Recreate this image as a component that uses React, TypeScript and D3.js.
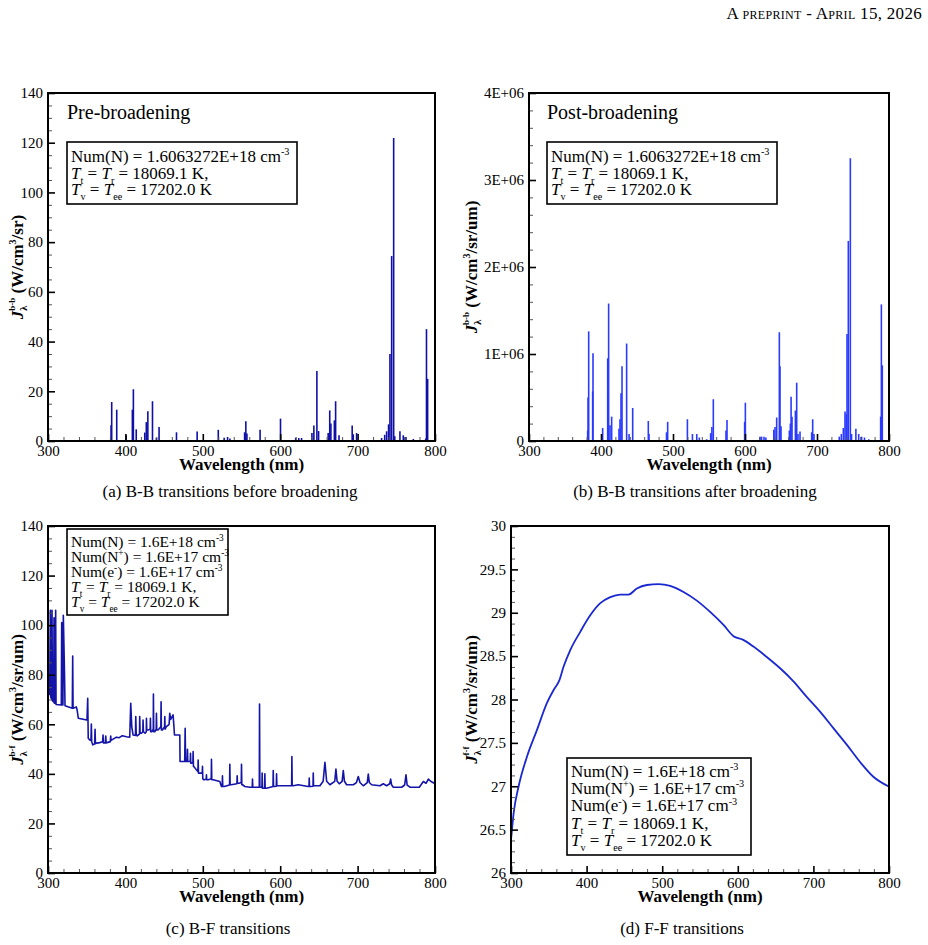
import React, { useRef, useEffect } from "react";
import * as d3 from "d3";

const FONT = "'Liberation Serif', Tinos, 'Times New Roman', Times, 'DejaVu Serif', 'Noto Serif', serif";

// wavelength grid shared by all four spectra
const xMajor = [300, 400, 500, 600, 700, 800];

// (a) bound-bound lines before broadening, W/cm3/sr
const preNm = [381.5, 382.3, 388.8, 401, 409, 410.3, 414, 425, 427, 429, 435, 440, 443.5, 466, 492.7, 520, 527.6, 532, 535, 554, 555.6, 557, 574, 600.4, 620, 624, 627.6, 641, 643.5, 647.4, 649.6, 662, 664, 665.5, 670, 671.6, 676, 693, 694.4, 698.7, 731, 735, 737.5, 740, 741.8, 744, 746.6, 748, 754.7, 759, 762.5, 772, 788, 789, 790.5];
const preVal = [6.3, 15.7, 12.6, 2.3, 12.6, 20.8, 4.7, 3.4, 7.6, 12, 16, 1.3, 5.6, 3.5, 3.8, 4.5, 1.3, 1.6, 1, 3.5, 7.9, 3, 4.5, 9, 1.3, 1.2, 1.2, 3.2, 6.2, 28.2, 4, 3.2, 12.3, 7, 8.3, 16, 2.3, 6.2, 2.7, 3.2, 1.2, 2.5, 3.9, 6.7, 35, 74.4, 121.9, 1.9, 3.9, 2.3, 1.6, 0.8, 1, 45, 25];

// (b) bound-bound lines after broadening, W/cm3/sr/um
const postNm = [381.5, 382, 382.9, 388.4, 388.9, 402.3, 409.3, 410.6, 412.5, 414.8, 425, 426.4, 427.8, 429.2, 435.6, 439, 444, 465.7, 466.7, 491, 492.6, 520, 527, 533, 536.6, 546.8, 552.3, 554, 556, 573.6, 575, 599.5, 600.5, 620.8, 623, 626.4, 629, 640, 641.7, 644, 647.7, 648.6, 650, 661.6, 663, 664, 665.3, 670, 671.8, 673.6, 676.4, 692.6, 694, 695.8, 731, 733.8, 736.6, 738.9, 740.7, 741.7, 743.5, 746.3, 748, 754, 757.9, 762, 766, 772, 788.4, 789.4, 790.7];
const postVal = [0.12e6, 0.5e6, 1.26e6, 0.57e6, 1.01e6, 0.15e6, 0.95e6, 1.58e6, 0.18e6, 0.28e6, 0.14e6, 0.25e6, 0.55e6, 0.86e6, 1.12e6, 0.08e6, 0.38e6, 0.23e6, 0.08e6, 0.1e6, 0.22e6, 0.25e6, 0.08e6, 0.08e6, 0.04e6, 0.02e6, 0.09e6, 0.16e6, 0.48e6, 0.12e6, 0.24e6, 0.22e6, 0.44e6, 0.05e6, 0.05e6, 0.05e6, 0.04e6, 0.13e6, 0.16e6, 0.27e6, 1.25e6, 0.86e6, 0.17e6, 0.12e6, 0.2e6, 0.51e6, 0.28e6, 0.35e6, 0.67e6, 0.08e6, 0.11e6, 0.1e6, 0.25e6, 0.08e6, 0.05e6, 0.08e6, 0.15e6, 0.34e6, 0.31e6, 1.23e6, 2.3e6, 3.25e6, 0.08e6, 0.14e6, 0.08e6, 0.05e6, 0.04e6, 0.02e6, 0.28e6, 1.57e6, 0.87e6];

// (c) bound-free emission: continuum with narrow line spikes
const bfNm = [300.2, 300.6, 301.5, 302.5, 303.0, 303.5, 304.8, 305.2, 305.7, 307.3, 307.8, 308.3, 309.4, 309.9, 310.4, 317.2, 317.7, 318.2, 319.3, 319.8, 320.6, 321.3, 322.0, 331.4, 331.9, 332.4, 336.6, 337.5, 339.2, 349.9, 350.4, 351.3, 352.0, 353.9, 355.5, 356.0, 356.5, 357.8, 360.3, 360.8, 361.3, 366.8, 370.6, 371.1, 371.6, 374.1, 374.6, 375.1, 380.5, 381.0, 381.5, 388.4, 392.0, 396.0, 401.3, 405.6, 406.9, 408.2, 409.9, 413.0, 413.4, 414.0, 415.1, 418.2, 418.5, 419.0, 420.7, 422.5, 422.8, 423.3, 425.4, 427.0, 427.2, 427.6, 429.3, 432.0, 432.3, 432.7, 434.1, 436.0, 436.2, 436.6, 437.9, 439.8, 440.1, 440.5, 442.2, 445.8, 446.1, 446.5, 447.8, 450.6, 450.9, 451.3, 453.0, 456.5, 457.3, 458.5, 461.6, 462.5, 463.4, 470.3, 470.6, 475.9, 476.6, 477.2, 477.8, 479.8, 480.2, 480.6, 481.5, 483.8, 484.1, 484.5, 485.3, 487.2, 487.5, 487.9, 488.4, 491.8, 493.7, 494.0, 494.4, 495.3, 498.3, 499.3, 499.6, 500.0, 501.3, 504.4, 504.7, 505.1, 506.9, 510.9, 511.2, 511.6, 513.4, 522.0, 524.1, 525.1, 525.4, 525.8, 527.6, 534.6, 534.9, 535.3, 536.6, 544.1, 544.4, 544.8, 547.0, 549.7, 550.0, 550.4, 551.3, 554.3, 560.8, 563.9, 564.2, 564.6, 565.9, 573.0, 573.3, 573.7, 574.6, 576.4, 576.7, 577.1, 578.0, 579.9, 580.2, 580.6, 582.3, 590.7, 591.0, 591.4, 592.7, 595.0, 595.3, 595.7, 597.4, 614.8, 615.1, 615.5, 616.8, 623.3, 636.2, 637.2, 637.5, 637.9, 639.2, 642.4, 642.7, 643.1, 644.4, 651.3, 655.5, 657.8, 660.0, 664.2, 670.5, 672.0, 673.5, 676.3, 680.0, 681.5, 683.0, 685.8, 694.4, 698.5, 700.9, 703.0, 707.3, 712.5, 713.8, 715.2, 718.1, 728.9, 733.2, 737.5, 741.5, 742.7, 744.0, 746.1, 756.9, 760.8, 762.5, 764.0, 767.7, 779.7, 784.9, 788.4, 791.4, 794.8, 799.1, 800.0];
const bfVal = [110, 74, 72, 72, 106, 71, 70, 106, 69.5, 69, 103, 68.5, 68.5, 106, 68, 67.8, 101, 67.8, 67.8, 104, 92, 81, 67.5, 66.5, 87.5, 66.5, 67, 66, 62.4, 61.7, 61.7, 70.5, 54.4, 53.7, 53.5, 60.1, 53, 51.7, 52, 58, 52.3, 52.6, 53, 55.7, 52.5, 52.5, 55.3, 52.5, 53, 55.3, 53.5, 54.8, 54.6, 55.4, 55, 54.8, 68.5, 59.1, 55.7, 55.5, 63.1, 56, 55.3, 56, 63.1, 56.4, 56.4, 57, 61.7, 57, 56.4, 57, 62.4, 57.7, 57.7, 58, 62.4, 57, 57, 58, 72.2, 57, 57, 58, 64.4, 57.7, 57.7, 59, 69.1, 57.7, 57.7, 59, 63.1, 58, 59.1, 60, 64.4, 62, 63.8, 60, 55.7, 55.7, 45, 45, 45, 58.4, 45, 45, 49.9, 45, 45, 45, 48.3, 44.3, 44.3, 44.5, 49, 43, 43, 41.6, 41, 45.6, 40.3, 40.3, 40.3, 40.5, 43, 38, 37.6, 37.8, 39.6, 37.6, 37.6, 38, 45.9, 37.6, 37.6, 36.9, 34.9, 35, 39.2, 34.9, 34.9, 35.5, 43.9, 35.6, 35.6, 36, 39.2, 36.2, 36.2, 36.5, 43.9, 35.6, 35.6, 34.9, 34.6, 34.6, 37.9, 34.6, 34.6, 34.6, 68.2, 34.6, 34.6, 34.5, 40.3, 34.2, 34.2, 34.3, 40, 34.2, 34.2, 34.9, 41.3, 34.9, 34.9, 35, 40, 35.2, 35.2, 35.2, 47, 35.2, 35.2, 35.6, 34.9, 35, 38.3, 34.9, 34.9, 35, 40.3, 35.2, 35.2, 35.2, 37, 44.7, 37, 35.6, 37, 41.9, 37, 36, 37, 41.3, 37, 35.6, 35.6, 36.5, 38.9, 36.5, 35.2, 36.5, 39.9, 36.5, 35.6, 35.2, 36, 35.2, 36, 37.9, 35.5, 34.6, 34.6, 35.5, 39.6, 35.5, 34.6, 34.6, 36.9, 36.2, 37.9, 36.9, 36.2, 35.9];

// (d) free-free emission
const ffNm = [300, 303.5, 310.1, 321.1, 334.4, 347.6, 356.4, 363.9, 369.6, 378.4, 391.6, 404.8, 418.1, 431.3, 444.5, 455.5, 466.5, 479.7, 495.2, 510.6, 528.2, 545.8, 563.4, 581.1, 594.3, 606.6, 620.7, 638.3, 656.0, 673.6, 691.2, 708.8, 726.4, 744.1, 761.7, 779.3, 799.1];
const ffVal = [26.38, 26.69, 27.0, 27.34, 27.65, 27.96, 28.11, 28.22, 28.38, 28.57, 28.78, 28.97, 29.11, 29.18, 29.21, 29.21, 29.28, 29.32, 29.33, 29.31, 29.24, 29.14, 29.01, 28.86, 28.73, 28.69, 28.61, 28.49, 28.36, 28.21, 28.03, 27.86, 27.67, 27.48, 27.28, 27.11, 27.0];

// state annotations; segments: [text, style] with style n / i(talic) / sub / sup
type Seg = [string, string];
const numLong: Seg[] = [["Num(N) = 1.6063272E+18 cm", "n"], ["-3", "sup"]];
const numN: Seg[] = [["Num(N) = 1.6E+18 cm", "n"], ["-3", "sup"]];
const numNp: Seg[] = [["Num(N", "n"], ["+", "sup"], [") = 1.6E+17 cm", "n"], ["-3", "sup"]];
const numE: Seg[] = [["Num(e", "n"], ["-", "sup"], [") = 1.6E+17 cm", "n"], ["-3", "sup"]];
const tempT: Seg[] = [["T", "i"], ["t", "sub"], [" = ", "n"], ["T", "i"], ["r", "sub"], [" = 18069.1 K,", "n"]];
const tempV: Seg[] = [["T", "i"], ["v", "sub"], [" = ", "n"], ["T", "i"], ["ee", "sub"], [" = 17202.0 K", "n"]];

const panels = [
  {
    id: "a", left: 48, right: 435, top: 93, bottom: 441,
    yDomain: [0, 140], yMajor: [0, 20, 40, 60, 80, 100, 120, 140], yMinorStep: 5,
    fmt: (v: number) => String(v), labelX: 23, sup: "b-b", unit: "sr",
    kind: "bars", nm: preNm, val: preVal, color: "#1010a6",
    title: "Pre-broadening", caption: "(a) B-B transitions before broadening", capX: 230, capY: 497,
    box: { x: 67, y: 142, w: 230, h: 62, fs: 17, lh: 16.6, first: 162, lines: [numLong, tempT, tempV] },
  },
  {
    id: "b", left: 529, right: 889, top: 93, bottom: 441,
    yDomain: [0, 4e6], yMajor: [0, 1e6, 2e6, 3e6, 4e6], yMinorStep: 2e5,
    fmt: (v: number) => (v === 0 ? "0" : `${v / 1e6}E+06`), labelX: 477, sup: "b-b", unit: "sr/um",
    kind: "bars", nm: postNm, val: postVal, color: "#2a3aff",
    title: "Post-broadening", caption: "(b) B-B transitions after broadening", capX: 695, capY: 497,
    box: { x: 547, y: 142, w: 230, h: 62, fs: 17, lh: 16.6, first: 162, lines: [numLong, tempT, tempV] },
  },
  {
    id: "c", left: 48, right: 435, top: 526, bottom: 873,
    yDomain: [0, 140], yMajor: [0, 20, 40, 60, 80, 100, 120, 140], yMinorStep: 5,
    fmt: (v: number) => String(v), labelX: 23, sup: "b-f", unit: "sr/um",
    kind: "line", nm: bfNm, val: bfVal, color: "#1414a8",
    title: "", caption: "(c) B-F transitions", capX: 228, capY: 934,
    box: { x: 67, y: 529, w: 161, h: 86, fs: 15.5, lh: 15, first: 547, lines: [numN, numNp, numE, tempT, tempV] },
  },
  {
    id: "d", left: 511, right: 889, top: 526, bottom: 873,
    yDomain: [26, 30], yMajor: [26, 26.5, 27, 27.5, 28, 28.5, 29, 29.5, 30], yMinorStep: 0.125,
    fmt: (v: number) => String(v), labelX: 477, sup: "f-f", unit: "sr/um",
    kind: "curve", nm: ffNm, val: ffVal, color: "#1a28d0",
    title: "", caption: "(d) F-F transitions", capX: 682, capY: 934,
    box: { x: 567, y: 758, w: 184, h: 97, fs: 17, lh: 17.2, first: 777, lines: [numN, numNp, numE, tempT, tempV] },
  },
];

function writeSegs(text: any, segs: Seg[], fs: number) {
  let off = 0;
  segs.forEach(([t, s]) => {
    const target = s === "sub" ? fs * 0.3 : s === "sup" ? -fs * 0.4 : 0;
    const span = text.append("tspan").attr("dy", target - off).text(t);
    if (s === "sub" || s === "sup") span.attr("font-size", fs * 0.6);
    if (s === "i") span.attr("font-style", "italic");
    off = target;
  });
}

const App = () => {
  const svgRef = useRef(null);

  useEffect(() => {
    const svg = d3.select(svgRef.current);
    svg.selectAll("*").remove();

    svg.append("rect").attr("width", 928).attr("height", 945).attr("fill", "white");

    // running header
    svg
      .append("text")
      .attr("x", 922)
      .attr("y", 19)
      .attr("text-anchor", "end")
      .attr("font-size", 17)
      .style("font-variant", "small-caps")
      .attr("letter-spacing", 0.3)
      .text("A preprint - April 15, 2026");

    panels.forEach((p) => {
      const x = d3.scaleLinear().domain([300, 800]).range([p.left, p.right]);
      const y = d3.scaleLinear().domain(p.yDomain).range([p.bottom, p.top]);
      const g = svg.append("g");

      g.append("clipPath")
        .attr("id", `clip-${p.id}`)
        .append("rect")
        .attr("x", p.left)
        .attr("y", p.top)
        .attr("width", p.right - p.left)
        .attr("height", p.bottom - p.top);

      const plot = g.append("g").attr("clip-path", `url(#clip-${p.id})`);
      const pts = d3.zip(p.nm, p.val);

      if (p.kind === "bars") {
        plot
          .selectAll("line")
          .data(pts)
          .enter()
          .append("line")
          .attr("x1", (d) => x(d[0]))
          .attr("x2", (d) => x(d[0]))
          .attr("y1", y(0))
          .attr("y2", (d) => y(d[1]))
          .attr("stroke", p.color)
          .attr("stroke-width", 1.6);
      } else {
        const line = d3
          .line()
          .x((d) => x(d[0]))
          .y((d) => y(d[1]))
          .curve(p.kind === "curve" ? d3.curveMonotoneX : d3.curveLinear);
        plot
          .append("path")
          .datum(pts)
          .attr("d", line)
          .attr("fill", "none")
          .attr("stroke", p.color)
          .attr("stroke-width", p.kind === "curve" ? 1.8 : 1.6)
          .attr("stroke-linejoin", "round");
      }

      // inward ticks, minor first so the majors sit on top
      const xMinor = d3.range(300, 800.01, 20).filter((v) => v % 100 !== 0);
      const yMinor = d3
        .range(p.yDomain[0], p.yDomain[1] + 1e-9, p.yMinorStep)
        .filter((v) => !p.yMajor.some((m) => Math.abs(m - v) < 1e-9));

      const xMinorAxis = g
        .append("g")
        .attr("transform", `translate(0,${p.bottom})`)
        .call(d3.axisBottom(x).tickValues(xMinor).tickSize(-4).tickFormat(() => ""));
      const yMinorAxis = g
        .append("g")
        .attr("transform", `translate(${p.left},0)`)
        .call(d3.axisLeft(y).tickValues(yMinor).tickSize(-4).tickFormat(() => ""));
      [xMinorAxis, yMinorAxis].forEach((a) => {
        a.select(".domain").remove();
        a.selectAll(".tick line").attr("stroke", "#555").attr("stroke-width", 1);
      });

      const xAxis = g
        .append("g")
        .attr("transform", `translate(0,${p.bottom})`)
        .call(d3.axisBottom(x).tickValues(xMajor).tickSize(-7).tickPadding(4).tickFormat((d) => String(d)));
      const yAxis = g
        .append("g")
        .attr("transform", `translate(${p.left},0)`)
        .call(d3.axisLeft(y).tickValues(p.yMajor).tickSize(-7).tickPadding(5).tickFormat((d) => p.fmt(+d)));
      [xAxis, yAxis].forEach((a) => {
        a.attr("font-family", null);
        a.select(".domain").remove();
        a.selectAll(".tick line").attr("stroke", "black").attr("stroke-width", 1.6);
        a.selectAll(".tick text").attr("font-size", 15).attr("fill", "black");
      });

      // frame
      g.append("rect")
        .attr("x", p.left)
        .attr("y", p.top)
        .attr("width", p.right - p.left)
        .attr("height", p.bottom - p.top)
        .attr("fill", "none")
        .attr("stroke", "black")
        .attr("stroke-width", 2);

      // axis titles
      g.append("text")
        .attr("x", (p.left + p.right) / 2)
        .attr("y", p.bottom + 29)
        .attr("text-anchor", "middle")
        .attr("font-weight", "bold")
        .attr("font-size", 17)
        .text("Wavelength (nm)");

      const yl = g
        .append("text")
        .attr("transform", `translate(${p.labelX},${(p.top + p.bottom) / 2}) rotate(-90)`)
        .attr("text-anchor", "middle")
        .attr("font-weight", "bold")
        .attr("font-size", 17);
      yl.append("tspan").attr("font-style", "italic").text("J");
      yl.append("tspan").attr("font-size", 10).attr("dy", 4).text("λ");
      yl.append("tspan").attr("font-size", 9).attr("dx", -5).attr("dy", -12).text(p.sup);
      yl.append("tspan").attr("dy", 8).text(" (W/cm");
      yl.append("tspan").attr("font-size", 10).attr("dy", -7).text("3");
      yl.append("tspan").attr("dy", 7).text(`/${p.unit})`);

      if (p.title) {
        g.append("text").attr("x", p.box.x).attr("y", 119).attr("font-size", 20).text(p.title);
      }

      // state box
      const b = p.box;
      g.append("rect")
        .attr("x", b.x)
        .attr("y", b.y)
        .attr("width", b.w)
        .attr("height", b.h)
        .attr("fill", "white")
        .attr("stroke", "black")
        .attr("stroke-width", 1.6);
      b.lines.forEach((segs, i) => {
        const t = g
          .append("text")
          .attr("x", b.x + 4)
          .attr("y", b.first + i * b.lh)
          .attr("font-size", b.fs);
        writeSegs(t, segs, b.fs);
      });

      svg
        .append("text")
        .attr("x", p.capX)
        .attr("y", p.capY)
        .attr("text-anchor", "middle")
        .attr("font-size", 17)
        .text(p.caption);
    });
  }, []);

  return (
    <svg
      ref={svgRef}
      width={928}
      height={945}
      style={{ position: "absolute", left: 0, top: 0, fontFamily: FONT }}
    ></svg>
  );
};

export default App;
